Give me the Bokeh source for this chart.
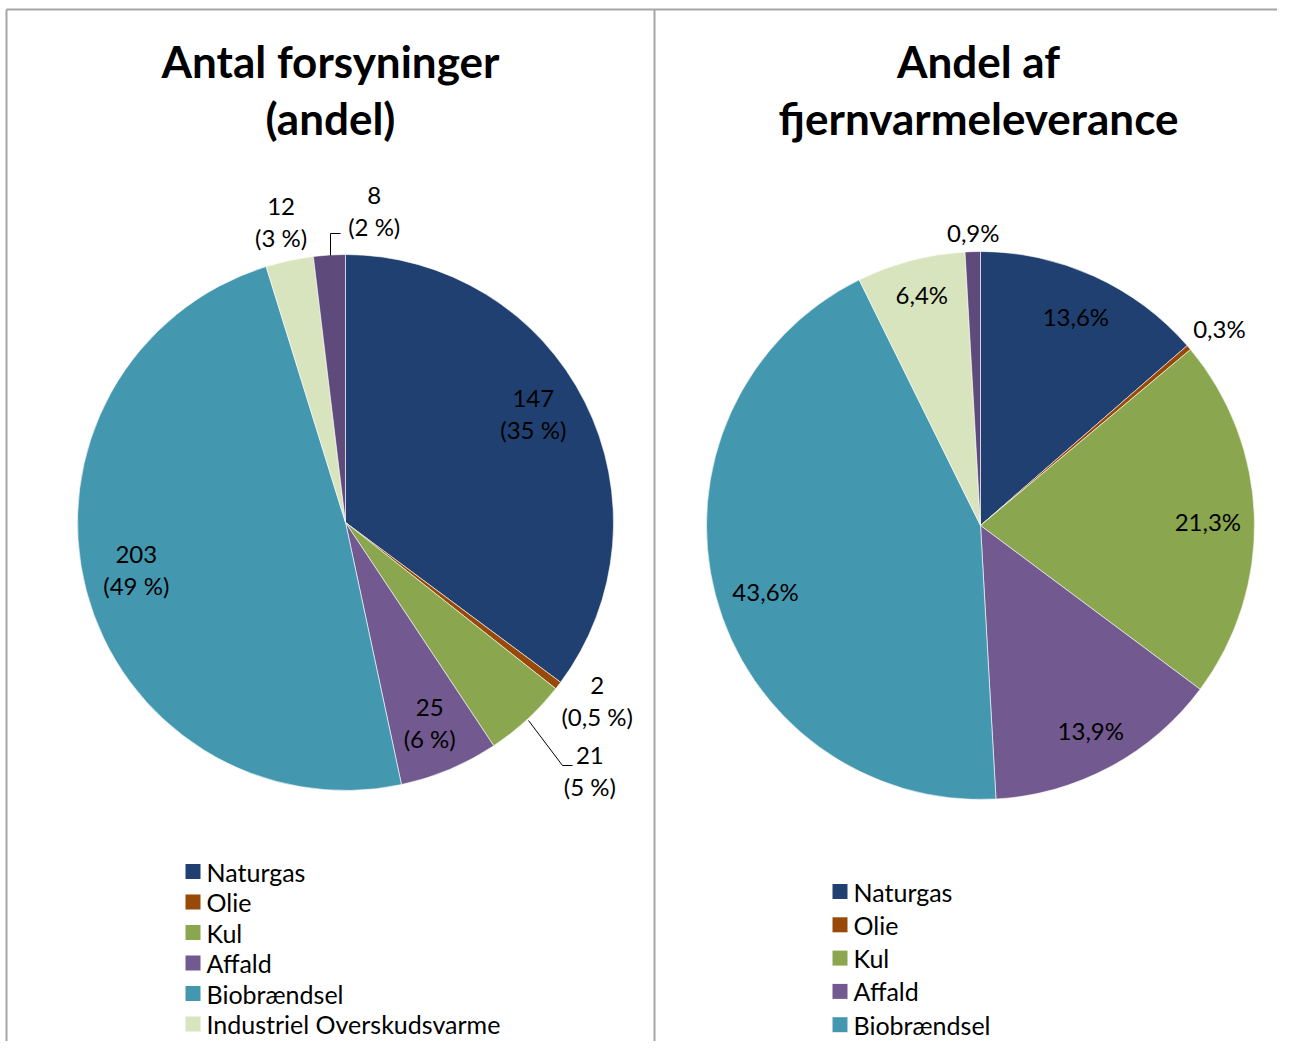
import math
from bokeh.plotting import figure
from bokeh.models import Range1d, ColumnDataSource
from bokeh.core.properties import value
from bokeh.embed import file_html
from bokeh.resources import INLINE

# ---------------- data ----------------
categories = ["Naturgas", "Olie", "Kul", "Affald", "Biobrændsel",
              "Industriel Overskudsvarme", ""]
colors = ["#1F4070", "#984807", "#8AA64E", "#72598F", "#4398B0", "#D7E4BD", "#5F4B7B"]

count_values = [147, 2, 21, 25, 203, 12, 8]
count_pct = ["35 %", "0,5 %", "5 %", "6 %", "49 %", "3 %", "2 %"]

share_values = [13.6, 0.3, 21.3, 13.9, 43.6, 6.4, 0.9]
share_labels = ["13,6%", "0,3%", "21,3%", "13,9%", "43,6%", "6,4%", "0,9%"]

title_left = "Antal forsyninger\n(andel)"
title_right = "Andel af\nfjernvarmeleverance"

# ---------------- layout ----------------
W, H = 1277, 1041
FONT = "Lato"


def X(rx):
    return rx


def Y(ry):
    return H - ry


p = figure(width=W, height=H, output_backend="svg", toolbar_location=None,
           x_range=Range1d(0, W), y_range=Range1d(0, H),
           x_axis_location=None, y_axis_location=None,
           min_border=0, min_border_left=0, min_border_right=0,
           min_border_top=0, min_border_bottom=0)
p.grid.visible = False
p.outline_line_color = None
p.background_fill_color = "white"
p.border_fill_color = "white"

# panel borders
border = "#A6A6A6"
p.segment(x0=[X(6), X(6), X(654)], y0=[Y(9), Y(9), Y(9)],
          x1=[W, X(6), X(654)], y1=[Y(9), 0, 0],
          line_color=border, line_width=2)


def draw_pie(vals, cx, cy, r, labels, rfac, aoff):
    tot = float(sum(vals))
    cum = 0.0
    starts, ends, mids = [], [], []
    for v in vals:
        f0 = cum / tot
        cum += v
        f1 = cum / tot
        starts.append(math.pi / 2 - 2 * math.pi * f0)
        ends.append(math.pi / 2 - 2 * math.pi * f1)
        mids.append((f0 + f1) / 2 * 360.0)
    src = ColumnDataSource(dict(start=starts, end=ends, color=colors[:len(vals)]))
    p.wedge(x=X(cx), y=Y(cy), radius=r, start_angle="start", end_angle="end",
            direction="clock", fill_color="color", line_color="white",
            line_width=0.6, source=src)
    lx, ly = [], []
    for m, fct, off in zip(mids, rfac, aoff):
        th = math.radians(m + off)
        lx.append(X(cx) + fct * r * math.sin(th))
        ly.append(Y(cy) + fct * r * math.cos(th))
    p.text(x=lx, y=ly, text=labels, text_align="center", text_baseline="middle",
           text_font=value(FONT), text_font_size="24px", text_color="black",
           text_line_height=1.1)


# left pie
left_labels = [f"{v}\n({c})" for v, c in zip(count_values, count_pct)]
draw_pie(count_values, 345, 522, 268, left_labels,
         [0.81, 1.15, 1.30, 0.81, 0.80, 1.15, 1.17],
         [-3.4, -2.2, -1.9, 0, 2.0, 0, 8.7])
# right pie
draw_pie(share_values, 980, 525, 274, share_labels,
         [0.84, 1.13, 0.83, 0.85, 0.82, 0.87, 1.07],
         [0, 1.0, 0.6, 0, -2.2, 0.5, 0.2])

# leader lines (left pie)
p.line(x=[X(528), X(562), X(572)], y=[Y(720), Y(765), Y(765)],
       line_color="black", line_width=1)
p.line(x=[X(330), X(330), X(340)], y=[Y(255), Y(233), Y(233)],
       line_color="black", line_width=1)

# titles
p.text(x=[X(330), X(978)], y=[Y(89), Y(89)], text=[title_left, title_right],
       text_align="center", text_baseline="middle", text_font=value(FONT),
       text_font_style="bold", text_font_size="44px", text_color="black",
       text_line_height=1.1)

# legends
n_left = 6
lx = [X(192.5)] * n_left
ly = [Y(871 + i * 30.5) for i in range(n_left)]
p.rect(x=lx, y=ly, width=15, height=15, fill_color=colors[:n_left], line_color=None)
p.text(x=[X(206)] * n_left, y=ly, text=categories[:n_left], text_align="left",
       text_baseline="middle", text_font=value(FONT), text_font_size="25px",
       text_color="black")

n_right = 5
rx = [X(839.5)] * n_right
ry = [Y(891 + i * 33.3) for i in range(n_right)]
p.rect(x=rx, y=ry, width=15, height=15, fill_color=colors[:n_right], line_color=None)
p.text(x=[X(853)] * n_right, y=ry, text=categories[:n_right], text_align="left",
       text_baseline="middle", text_font=value(FONT), text_font_size="25px",
       text_color="black")

open("out.html", "w").write(file_html(p, INLINE))
